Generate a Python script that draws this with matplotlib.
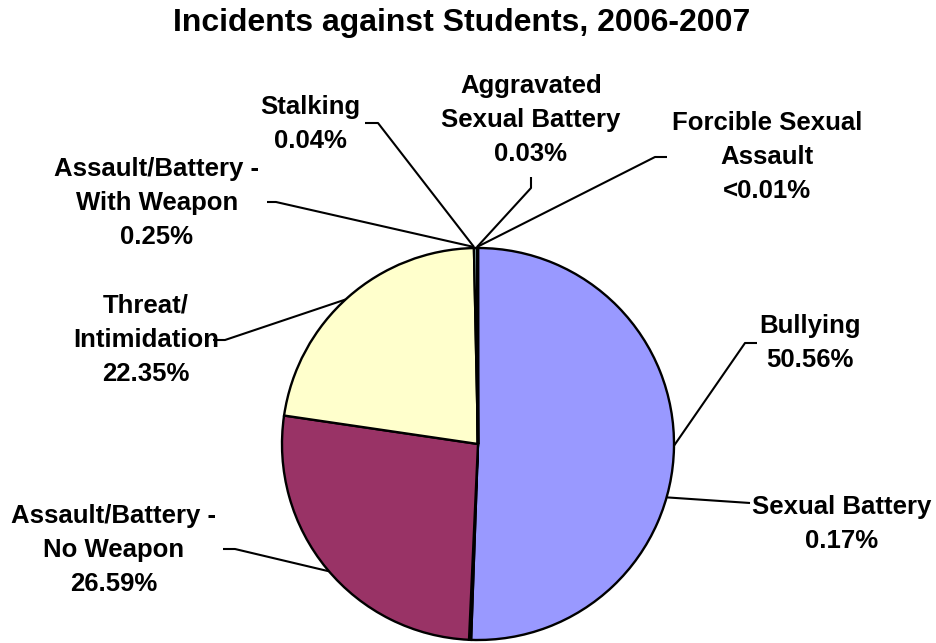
import numpy as np
import matplotlib
matplotlib.use("Agg")
import matplotlib.pyplot as plt

# ---- data ----
categories = ["Bullying", "Sexual Battery", "Assault/Battery -\nNo Weapon",
              "Threat/\nIntimidation", "Assault/Battery -\nWith Weapon",
              "Stalking", "Aggravated\nSexual Battery", "Forcible Sexual\nAssault"]
values = [50.56, 0.17, 26.59, 22.35, 0.25, 0.04, 0.03, 0.01]
pct_labels = ["50.56%", "0.17%", "26.59%", "22.35%", "0.25%", "0.04%", "0.03%", "<0.01%"]
colors = ["#9999FF", "#660066", "#993366", "#FFFFCC", "#CCFFFF", "#FF8080", "#0066CC", "#CCCCFF"]
title = "Incidents against Students, 2006-2007"

W, H = 937, 643
fig = plt.figure(figsize=(W / 100, H / 100), dpi=100)
ax = fig.add_axes([0, 0, 1, 1])

def Y(ypx):
    return H - ypx

cx, cy, r = 478, Y(444), 196
ax.pie(values, colors=colors, startangle=90, counterclock=False,
       center=(cx, cy), radius=r, frame=True,
       wedgeprops=dict(edgecolor="black", linewidth=1.7))
ax.set_xlim(0, W)
ax.set_ylim(0, H)
ax.set_aspect("equal")
ax.axis("off")

font = dict(family=["Liberation Sans", "DejaVu Sans"], fontweight="bold")
fig.text(462 / W, 1 - 23 / H, title, ha="center", va="center", fontsize=23, **font)

# label layout: (text center x, center y px, tick polyline px, edge anchor)
layout = [
    (810, 343, [(757, 343), (745, 343)], ("ang", -0.5)),
    (842, 524, [(750, 503)], ("ang", -15.8)),
    (114, 550, [(223, 549), (235, 549)], ("ang", 220.5)),
    (146, 340, [(213, 340), (225, 340)], ("ang", 132.5)),
    (157, 203, [(267, 202), (276, 202)], ("pt", (474, 247))),
    (310, 124, [(365, 123), (378, 123)], ("pt", (474, 247))),
    (531, 120, [(531, 177), (531, 188)], ("pt", (477, 247))),
    (767, 157, [(667, 157), (655, 157)], ("pt", (477, 247))),
]

for cat, pct, (tx, ty, tick, anchor) in zip(categories, pct_labels, layout):
    ax.text(tx, Y(ty), cat + "\n" + pct, ha="center", va="center",
            multialignment="center", fontsize=18.5, linespacing=1.55, **font)
    pts = [(x, Y(y)) for x, y in tick]
    if anchor[0] == "ang":
        a = np.deg2rad(anchor[1])
        pts.append((cx + r * np.cos(a), cy + r * np.sin(a)))
    else:
        pts.append((anchor[1][0], Y(anchor[1][1])))
    xs, ys = zip(*pts)
    ax.plot(xs, ys, color="black", linewidth=1.5, solid_capstyle="butt")

fig.savefig("out.png", dpi=100)
